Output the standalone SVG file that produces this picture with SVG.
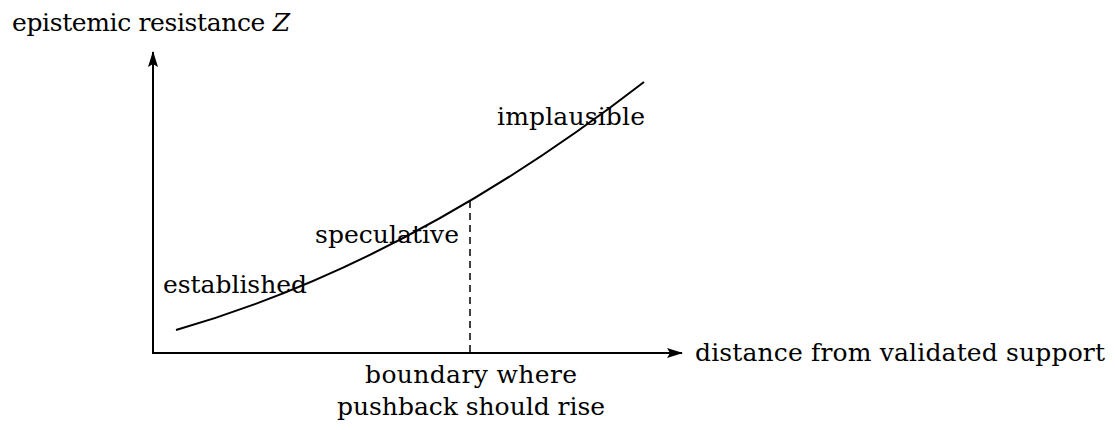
<svg xmlns="http://www.w3.org/2000/svg" width="1115" height="430" viewBox="0 0 1115 430">
<style>
text { font-family: "DejaVu Serif", "Liberation Serif", serif; font-size: 25px; fill: #000; }
.ax { stroke: #000; stroke-width: 2; fill: none; }
.curve { stroke: #000; stroke-width: 2; fill: none; }
.dash { stroke: #000; stroke-width: 1.5; stroke-dasharray: 7 5; fill: none; }
</style>
<defs>
<marker id="arr" viewBox="0 0 16 10" refX="15" refY="5" markerWidth="16" markerHeight="10" markerUnits="userSpaceOnUse" orient="auto">
<path d="M0,0 L16,5 L0,10 L3,5 Z" fill="#000"/>
</marker>
</defs>
<rect width="1115" height="430" fill="#fff"/>
<g id="connectors">
<line class="ax" x1="153" y1="353" x2="153" y2="52" marker-end="url(#arr)"/>
<line class="ax" x1="152" y1="353" x2="682" y2="353" marker-end="url(#arr)"/>
<path class="curve" d="M176,330 Q410,263 644,82"/>
<line class="dash" x1="470" y1="201" x2="470" y2="353"/>
</g>
<g id="y-label"><text x="12" y="31" textLength="278">epistemic resistance <tspan font-style="italic">Z</tspan></text></g>
<g id="x-label"><text x="695" y="361" textLength="410">distance from validated support</text></g>
<g id="implausible"><text x="497" y="125" textLength="148">implausible</text></g>
<g id="speculative"><text x="315" y="243" textLength="144">speculative</text></g>
<g id="established"><text x="163" y="293" textLength="144">established</text></g>
<g id="boundary">
<text x="365" y="383" textLength="212">boundary where</text>
<text x="337" y="415" textLength="268">pushback should rise</text>
</g>
</svg>
